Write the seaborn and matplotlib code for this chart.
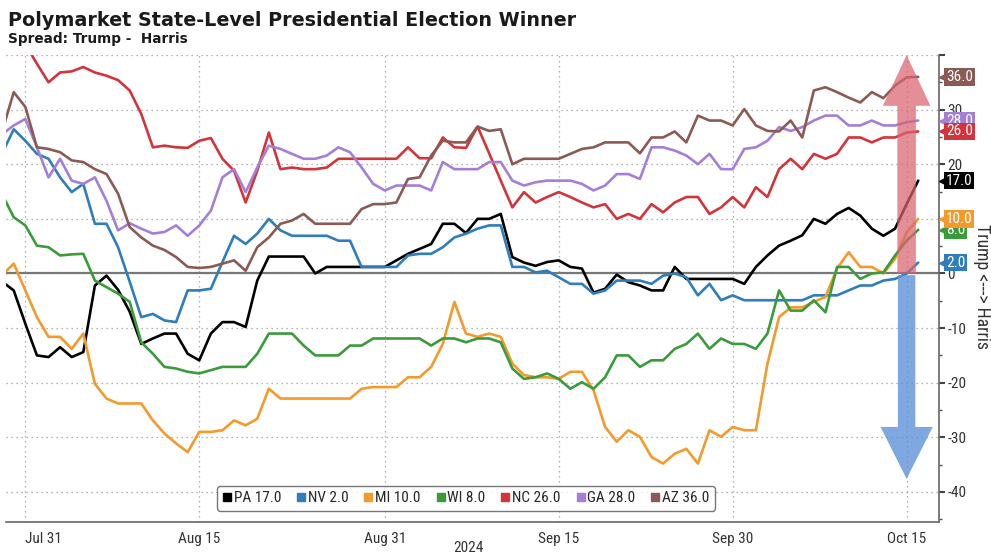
import numpy as np
import pandas as pd
import matplotlib
matplotlib.use("Agg")
import matplotlib.pyplot as plt
import matplotlib.dates as mdates
from matplotlib import font_manager as fm
from matplotlib.patches import FancyArrow
from matplotlib.lines import Line2D
import matplotlib.transforms as mtransforms
import seaborn as sns

# Daily spread (Trump - Harris), 2024-07-29 .. 2024-10-16
dates = pd.date_range("2024-07-29", "2024-10-16", freq="D")

pa = [-1.5, -3.1, -9.2, -15.0, -15.3, -13.5, -15.3, -14.4, -2.2, -0.4,
      -3.0, -7.0, -12.9, -11.9, -11.0, -11.0, -14.7, -15.9, -11.0, -8.9,
      -8.9, -9.8, -1.3, 3.1, 3.1, 3.1, 3.1, 0.0, 1.2, 1.2,
      1.2, 1.2, 1.2, 1.2, 2.4, 3.6, 4.5, 5.4, 9.1, 9.1,
      7.4, 10.0, 10.0, 10.9, 3.0, 2.0, 1.4, 2.1, 2.4, 1.2,
      0.9, -3.5, -2.8, -0.2, -1.6, -2.2, -3.1, -3.1, 1.2, -1.0,
      -1.0, -1.0, -1.0, -1.0, -1.9, 1.2, 3.3, 5.1, 6.0, 7.0,
      10.0, 9.1, 10.9, 12.0, 10.6, 8.2, 6.9, 8.2, 12.7, 17.0]

nv = [22.0, 26.4, 24.3, 21.9, 21.0, 17.6, 14.9, 16.4, 9.1, 9.1,
      4.8, -1.5, -8.0, -7.4, -8.6, -8.9, -3.1, -3.1, -2.8, 2.1,
      6.9, 5.4, 7.3, 10.0, 7.9, 6.9, 6.9, 6.9, 6.9, 6.0,
      6.0, 1.2, 1.2, 1.2, 1.2, 3.3, 3.6, 3.6, 4.8, 6.6,
      7.3, 8.2, 8.8, 8.8, 1.2, 1.2, 0.2, 0.5, -0.7, -1.9,
      -1.9, -3.7, -3.1, -1.3, -1.3, -1.3, -1.9, -0.4, 0.0, -0.7,
      -4.0, -1.9, -4.9, -4.0, -4.9, -4.9, -4.9, -4.9, -4.9, -4.9,
      -4.0, -4.0, -4.0, -3.1, -2.2, -2.2, -1.3, -1.0, 0.0, 2.0]

mi = [-0.3, 1.8, -3.1, -8.0, -11.6, -11.6, -13.8, -11.0, -20.2, -22.9,
      -23.8, -23.8, -23.8, -26.9, -29.3, -31.1, -32.7, -29.0, -29.0, -28.7,
      -26.9, -27.8, -26.6, -21.1, -22.9, -22.9, -22.9, -22.9, -22.9, -22.9,
      -22.9, -21.1, -20.8, -20.8, -20.8, -19.0, -19.0, -17.1, -12.9, -5.2,
      -11.0, -11.6, -11.0, -11.6, -16.5, -18.6, -19.0, -19.0, -19.3, -18.0,
      -18.0, -21.4, -28.1, -30.8, -28.7, -29.9, -33.6, -34.8, -33.0, -32.1,
      -34.8, -28.7, -29.9, -28.1, -28.7, -28.7, -16.5, -8.0, -6.2, -6.2,
      -5.2, -4.3, 0.9, 3.9, 1.2, 1.2, 0.0, 2.7, 7.5, 10.0]

wi = [14.5, 10.3, 8.8, 5.1, 4.8, 3.3, 3.5, 3.6, -1.3, -2.5,
      -3.7, -5.2, -12.6, -14.7, -17.1, -17.4, -18.0, -18.3, -17.7, -17.1,
      -17.1, -17.1, -14.7, -11.0, -11.0, -11.0, -13.2, -15.0, -15.0, -15.0,
      -13.2, -13.2, -11.9, -11.9, -11.9, -11.9, -11.9, -13.2, -11.9, -11.9,
      -12.6, -11.9, -11.9, -12.6, -17.4, -19.3, -19.0, -18.3, -19.3, -21.1,
      -19.9, -21.1, -19.0, -15.0, -15.0, -17.1, -15.9, -15.9, -13.8, -12.9,
      -11.0, -13.8, -11.9, -12.9, -12.9, -13.8, -11.0, -3.1, -6.8, -6.8,
      -4.9, -7.1, 1.2, 1.2, -1.0, 0.0, 0.2, 3.3, 6.0, 8.0]

nc = [43.0, 43.0, 42.0, 38.4, 35.0, 36.8, 37.0, 37.8, 36.8, 36.2,
      35.4, 33.5, 29.2, 23.1, 23.4, 23.1, 23.0, 24.3, 24.8, 21.0,
      18.8, 13.0, 18.8, 25.8, 19.1, 19.4, 19.1, 19.1, 19.4, 21.0,
      21.0, 21.0, 21.0, 21.0, 21.0, 23.1, 21.1, 21.1, 24.9, 23.1,
      23.0, 26.9, 22.0, 17.0, 12.1, 14.9, 13.0, 14.0, 14.9, 14.0,
      13.0, 12.1, 12.7, 10.0, 10.9, 10.0, 12.7, 11.2, 13.0, 14.0,
      14.0, 10.9, 12.1, 14.0, 12.1, 15.8, 14.0, 19.1, 21.0, 19.1,
      21.9, 21.0, 21.9, 24.9, 24.9, 24.0, 24.9, 24.9, 25.8, 26.0]

ga = [25.5, 27.1, 28.3, 23.1, 17.6, 21.0, 17.0, 16.4, 17.6, 13.3,
      7.9, 9.2, 8.2, 7.3, 7.6, 8.8, 6.9, 8.8, 11.5, 17.6,
      19.1, 14.9, 19.4, 23.4, 22.8, 21.9, 21.0, 21.0, 21.6, 23.1,
      22.2, 19.4, 16.4, 15.2, 16.1, 16.1, 16.1, 15.2, 20.4, 19.1,
      19.1, 19.1, 20.4, 20.4, 17.0, 16.1, 16.7, 17.0, 17.0, 17.0,
      16.4, 15.2, 16.1, 18.2, 18.2, 17.3, 23.1, 23.1, 22.5, 21.6,
      20.0, 21.9, 19.1, 19.1, 22.8, 23.1, 24.3, 26.8, 26.1, 26.8,
      28.0, 28.9, 28.9, 27.1, 27.1, 28.0, 27.1, 27.1, 27.7, 28.0]

az = [26.0, 33.2, 30.5, 23.1, 22.8, 22.2, 20.7, 20.4, 19.1, 18.2,
      14.6, 8.5, 6.6, 5.1, 4.3, 3.0, 1.2, 1.0, 1.2, 1.8,
      2.4, 0.5, 4.8, 6.6, 9.1, 9.7, 10.9, 9.1, 9.1, 9.1,
      9.1, 11.8, 12.7, 12.7, 13.0, 17.3, 17.6, 21.6, 24.3, 24.0,
      24.0, 26.9, 26.1, 26.4, 20.0, 21.0, 21.0, 21.0, 21.0, 21.9,
      22.8, 23.1, 24.0, 24.0, 24.0, 22.0, 24.9, 24.9, 26.0, 24.0,
      28.9, 28.0, 28.0, 27.1, 30.1, 27.1, 26.1, 26.0, 28.0, 24.9,
      33.5, 34.1, 33.2, 32.2, 31.3, 33.2, 32.1, 34.4, 35.9, 36.0]

states = ["PA", "NV", "MI", "WI", "NC", "GA", "AZ"]
series = [pa, nv, mi, wi, nc, ga, az]
palette = {
    "PA": "#000000",
    "NV": "#2f7dbb",
    "MI": "#f39a2c",
    "WI": "#3b9b3b",
    "NC": "#d1353b",
    "GA": "#a57fd5",
    "AZ": "#8b5a54",
}

tick_dates = ["2024-07-31", "2024-08-15", "2024-08-31",
              "2024-09-15", "2024-09-30", "2024-10-15"]
tick_labels = ["Jul 31", "Aug 15", "Aug 31", "Sep 15", "Sep 30", "Oct 15"]
minor_dates = ["2024-08-08", "2024-08-23", "2024-09-08",
               "2024-09-23", "2024-10-08"]

wide = pd.DataFrame({"date": dates, **dict(zip(states, series))})
df = wide.melt(id_vars="date", var_name="state", value_name="spread")

sns.set_theme(style="white")
plt.rcParams["font.family"] = ["DejaVu Sans"]


def narrow_font():
    """Pick a condensed sans face if one is installed."""
    names = {f.name for f in fm.fontManager.ttflist}
    for cand in ["Liberation Sans Narrow", "Roboto Condensed", "Open Sans Condensed",
                 "Noto Sans Condensed", "DejaVu Sans Condensed"]:
        if cand in names:
            return dict(family=[cand, "DejaVu Sans"]), True
    for f in fm.fontManager.ttflist:
        if "condensed" in str(f.stretch).lower() or "narrow" in f.name.lower():
            return dict(family=[f.name, "DejaVu Sans"], stretch=f.stretch), True
    return dict(family=["DejaVu Sans"]), False


nf, has_narrow = narrow_font()
small = 11 if has_narrow else 9.5
tag_size = 11 if has_narrow else 9
fp_small = fm.FontProperties(size=small, **nf)
fp_tag = fm.FontProperties(size=tag_size, **nf)

fig = plt.figure(figsize=(9.91, 5.55), dpi=100)
ax = fig.add_axes([6 / 991, 1 - 522 / 555, (939 - 6) / 991, (522 - 55) / 555])

sns.lineplot(data=df, x="date", y="spread", hue="state", hue_order=states,
             palette=palette, linewidth=1.9, ax=ax, legend=False, zorder=3)

ax.set_xlim(pd.Timestamp("2024-07-29 08:00"), pd.Timestamp("2024-10-17 19:00"))
ax.set_ylim(-45.5, 40)

# axes styling
ax.yaxis.tick_right()
ax.set_yticks(range(-40, 41, 10))
ax.set_yticklabels([str(v) if v != 40 else "" for v in range(-40, 41, 10)],
                   fontproperties=fp_small)
ax.set_yticks(range(-45, 40, 10), minor=True)
ax.set_xticks(pd.to_datetime(tick_dates))
ax.set_xticklabels(tick_labels, fontproperties=fp_small)
ax.get_xticklabels()[0].set_horizontalalignment("left")
ax.set_xticks(pd.to_datetime(minor_dates), minor=True)
ax.tick_params(axis="y", which="major", direction="out", length=4, width=1.5,
               colors="#444444", labelcolor="#333333", pad=2)
ax.tick_params(axis="y", which="minor", direction="out", length=2.5, width=1,
               colors="#555555")
ax.tick_params(axis="x", which="major", direction="out", length=4, width=1,
               colors="#555555", labelcolor="#333333", pad=3)
ax.tick_params(axis="x", which="minor", direction="out", length=2.5, width=1,
               colors="#555555")
ax.set_xlabel("")
ax.set_ylabel("")

ax.grid(True, which="major", linestyle=(0, (1, 3)), color="#9a9a9a", linewidth=0.9)
ax.axhline(0, color="#777777", linewidth=1.6, zorder=2)
for side in ["left", "top"]:
    ax.spines[side].set_visible(False)
for side in ["right", "bottom"]:
    ax.spines[side].set_color("#666666")
    ax.spines[side].set_linewidth(1.2)

# direction arrows
x_arrow = mdates.date2num(pd.Timestamp("2024-10-15"))
ax.add_patch(FancyArrow(x_arrow, 0, 0, 40, width=1.6, head_width=4.1,
                        head_length=9.3, length_includes_head=True,
                        color="#da6470", alpha=0.72, lw=0, zorder=4))
ax.add_patch(FancyArrow(x_arrow, -0.3, 0, -37.3, width=1.5, head_width=4.5,
                        head_length=9.5, length_includes_head=True,
                        color="#5f93da", alpha=0.8, lw=0, zorder=4))

# last-value tags on the right axis
trans = mtransforms.blended_transform_factory(ax.transAxes, ax.transData)
tag_order = ["AZ", "GA", "NC", "PA", "WI", "MI", "NV"]
for st in tag_order:
    v = series[states.index(st)][-1]
    c = palette[st]
    ax.plot([1.0 + 4.5 / 933], [v], marker="<", markersize=7, color=c,
            transform=trans, clip_on=False, zorder=6)
    ax.text(1.0 + 7 / 933, v, f"{v:.1f}", transform=trans, ha="left", va="center",
            fontproperties=fp_tag, color="white", zorder=7,
            bbox=dict(boxstyle="square,pad=0.12", fc=c, ec="none"))

# legend
handles = [Line2D([], [], marker="s", linestyle="none", color=palette[s],
                  markersize=6) for s in states]
labels = [f"{s} {series[i][-1]:.1f}" for i, s in enumerate(states)]
leg = ax.legend(handles, labels, ncol=7, loc="center",
                bbox_to_anchor=(0.493, 0.051), frameon=True, fancybox=True,
                handlelength=0.6, handletextpad=0.15,
                columnspacing=1.0 if has_narrow else 0.9,
                borderpad=0.35, prop=fm.FontProperties(size=small, **nf))
leg.get_frame().set_edgecolor("#555555")
leg.get_frame().set_linewidth(1.0)
leg.set_zorder(8)

# titles and labels
fig.text(8 / 991, 1 - 20 / 555, "Polymarket State-Level Presidential Election Winner",
         fontsize=13.8, fontweight="bold", color="#1a1a1a", ha="left", va="center")
fig.text(8 / 991, 1 - 39 / 555, "Spread: Trump -  Harris",
         fontsize=9.8, fontweight="bold", color="#1a1a1a", ha="left", va="center")
fig.text(468 / 991, 1 - 548 / 555, "2024", fontproperties=fp_small,
         color="#333333", ha="center", va="center")
fig.text(982 / 991, 1 - 287 / 555, "Trump <---> Harris",
         fontproperties=fm.FontProperties(size=small + 1.8, **nf),
         color="#333333", rotation=270, ha="center", va="center")

fig.savefig("out.png", dpi=100)
